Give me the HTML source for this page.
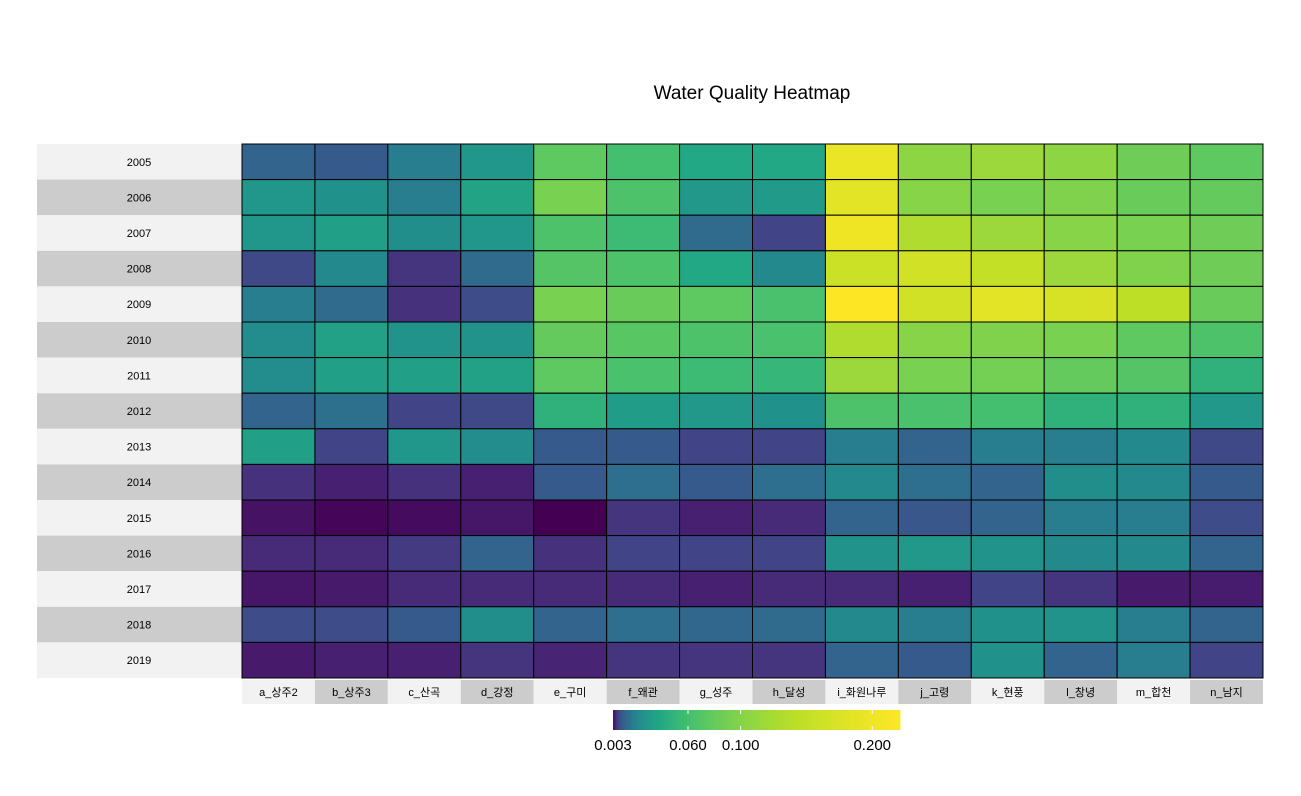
<!DOCTYPE html>
<html><head><meta charset="utf-8">
<style>
html,body{margin:0;padding:0;background:#fff;}
svg{display:block;font-family:"Liberation Sans","Noto Sans CJK KR",sans-serif;}
</style></head>
<body>
<svg id="chart" width="1301" height="796" viewBox="0 0 1301 796">
<rect x="0" y="0" width="1301" height="796" fill="#ffffff"/>
<text x="752" y="99" text-anchor="middle" font-size="19" fill="#000">Water Quality Heatmap</text>
<g id="rowlabels"></g>
<g id="collabels"></g>
<g id="cells"></g>
<g id="legend"></g>
</svg>
<script>
const years = ["2005","2006","2007","2008","2009","2010","2011","2012","2013","2014","2015","2016","2017","2018","2019"];
const stations = ["a_상주2","b_상주3","c_산곡","d_강정","e_구미","f_왜관","g_성주","h_달성","i_화원나루","j_고령","k_현풍","l_창녕","m_합천","n_남지"];
const v2005 = [0.0119,0.0100,0.0182,0.0281,0.075,0.061,0.0396,0.0396,0.194,0.106,0.116,0.106,0.086,0.075];
const v2006 = [0.0281,0.0258,0.0182,0.0363,0.093,0.066,0.0293,0.0306,0.186,0.102,0.093,0.097,0.082,0.079];
const v2007 = [0.0281,0.0334,0.0246,0.0281,0.066,0.056,0.0135,0.0071,0.203,0.132,0.116,0.102,0.093,0.086];
const v2008 = [0.0077,0.0226,0.0057,0.0135,0.069,0.066,0.0396,0.0226,0.157,0.164,0.150,0.116,0.097,0.086];
const v2009 = [0.0182,0.0135,0.0055,0.0080,0.093,0.082,0.075,0.064,0.221,0.164,0.186,0.171,0.144,0.082];
const v2010 = [0.0236,0.0348,0.0269,0.0269,0.079,0.072,0.066,0.064,0.132,0.102,0.097,0.093,0.075,0.066];
const v2011 = [0.0236,0.0334,0.0334,0.0348,0.075,0.064,0.056,0.051,0.116,0.093,0.089,0.079,0.069,0.047];
const v2012 = [0.0119,0.0147,0.0071,0.0077,0.047,0.0319,0.0293,0.0258,0.066,0.064,0.061,0.047,0.047,0.0293];
const v2013 = [0.0334,0.0071,0.0281,0.0236,0.0100,0.0100,0.0071,0.0071,0.0182,0.0119,0.0182,0.0182,0.0226,0.0077];
const v2014 = [0.0055,0.0044,0.0055,0.0044,0.0100,0.0141,0.0100,0.0141,0.0226,0.0141,0.0119,0.0246,0.0226,0.0100];
const v2015 = [0.0037,0.0032,0.0034,0.0039,0.0030,0.0057,0.0044,0.0050,0.0119,0.0096,0.0119,0.0182,0.0182,0.0080];
const v2016 = [0.0050,0.0050,0.0062,0.0119,0.0055,0.0071,0.0071,0.0071,0.0269,0.0293,0.0269,0.0226,0.0226,0.0119];
const v2017 = [0.0039,0.0041,0.0050,0.0050,0.0050,0.0050,0.0044,0.0050,0.0050,0.0044,0.0071,0.0057,0.0041,0.0042];
const v2018 = [0.0080,0.0080,0.0100,0.0246,0.0119,0.0141,0.0124,0.0135,0.0226,0.0182,0.0258,0.0269,0.0182,0.0119];
const v2019 = [0.0041,0.0044,0.0044,0.0057,0.0046,0.0057,0.0057,0.0057,0.0119,0.0100,0.0258,0.0119,0.0182,0.0071];
const legendTicks = [0.003,0.060,0.100,0.200];
const legendTickLabels = ["0.003","0.060","0.100","0.200"];
const rows = [v2005,v2006,v2007,v2008,v2009,v2010,v2011,v2012,v2013,v2014,v2015,v2016,v2017,v2018,v2019];

const NS = "http://www.w3.org/2000/svg";
const vmin = 0.003, vmax = 0.221;
const gx0 = 242, gx1 = 1263, gy0 = 144, gy1 = 678;
const cw = (gx1-gx0)/stations.length, ch = (gy1-gy0)/years.length;
const xCol = i => gx0 + i*cw;
const yRow = j => gy0 + j*ch;
const lx0 = 613, lx1 = 900;
const legendX = v => lx0 + (v - vmin) * 1316;
const vir = ["#440154","#482475","#414487","#355f8d","#2a788e","#21918c","#22a884","#44bf70","#7ad151","#bddf26","#fde725"];
function hex(c){return [parseInt(c.slice(1,3),16),parseInt(c.slice(3,5),16),parseInt(c.slice(5,7),16)];}
function colorT(t){
  t = Math.max(0, Math.min(1, t));
  const p = t*10, i = Math.min(9, Math.floor(p)), f = p - i;
  const a = hex(vir[i]), b = hex(vir[i+1]);
  return "rgb(" + a.map((x,k)=>Math.round(x+(b[k]-x)*f)).join(",") + ")";
}
const colorV = v => colorT(Math.log(v/vmin)/Math.log(vmax/vmin));
function mk(tag, attrs, parent){
  const e = document.createElementNS(NS, tag);
  for (const k in attrs) e.setAttribute(k, attrs[k]);
  parent.appendChild(e); return e;
}
const gR = document.getElementById("rowlabels");
years.forEach((y,j)=>{
  const r = mk("rect",{x:37,y:yRow(j),width:gx0-37,height:ch,fill:j%2?"#cccccc":"#f2f2f2"},gR);
  
  
  const t = mk("text",{x:139,y:yRow(j)+ch/2+4,"text-anchor":"middle","font-size":"11",fill:"#000"},gR);
  t.textContent = y;
  
  
});
const gC = document.getElementById("collabels");
stations.forEach((s,i)=>{
  const r = mk("rect",{x:xCol(i),y:680,width:cw,height:24,fill:i%2?"#cccccc":"#f2f2f2"},gC);
  
  
  const t = mk("text",{x:xCol(i)+cw/2,y:696,"text-anchor":"middle","font-size":"11",fill:"#000"},gC);
  t.textContent = s;
  
  
});
const gCells = document.getElementById("cells");
rows.forEach((row,j)=>{
  row.forEach((v,i)=>{
    const r = mk("rect",{x:xCol(i),y:yRow(j),width:cw,height:ch,fill:colorV(v),stroke:"#000","stroke-width":1},gCells);
    
    
  });
});
const gL = document.getElementById("legend");
const N = 120;
for (let k=0;k<N;k++){
  const v0 = vmin + (vmax-vmin)*k/N, v1 = vmin + (vmax-vmin)*(k+1)/N;
  const r = mk("rect",{x:legendX(v0),y:710,width:legendX(v1)-legendX(v0)+0.6,height:20,fill:colorV((v0+v1)/2)},gL);
  
  
}
legendTicks.forEach((v,k)=>{
  const x = legendX(v);
  if (k>0){
    const a = mk("line",{x1:x,x2:x,y1:710,y2:714,stroke:"#fff","stroke-width":1},gL);
    
    
    const b = mk("line",{x1:x,x2:x,y1:726,y2:730,stroke:"#fff","stroke-width":1},gL);
    
    
  }
  const t = mk("text",{x:x,y:750,"text-anchor":"middle","font-size":"15",fill:"#000"},gL);
  t.textContent = legendTickLabels[k];
  
  
});
</script>
</body></html>
